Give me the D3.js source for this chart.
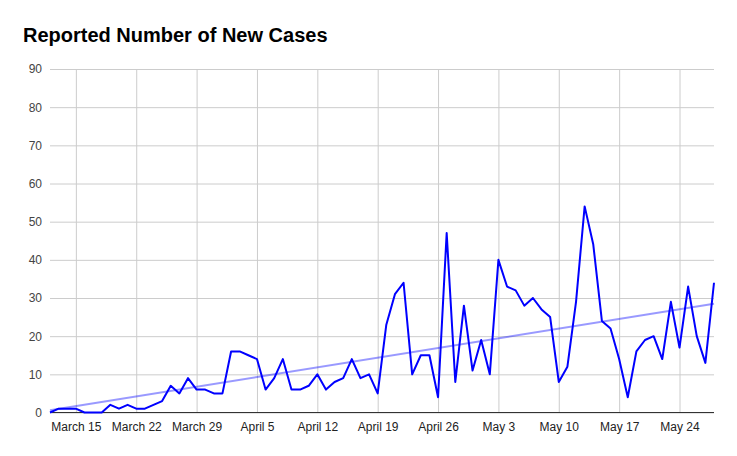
<!DOCTYPE html>
<html><head><meta charset="utf-8">
<script src="https://cdn.jsdelivr.net/npm/d3@7"></script>
<style>body{margin:0;background:#fff}svg{display:block}</style>
</head><body>
<script>
const startDate = "2020-03-12";
const cases = [0,1,1,1,0,0,0,2,1,2,1,1,2,3,7,5,9,6,6,5,5,16,16,15,14,6,9,14,6,6,7,10,6,8,9,14,9,10,5,23,31,34,10,15,15,4,47,8,28,11,19,10,40,33,32,28,30,27,25,8,12,29,54,44,24,22,14,4,16,19,20,14,29,17,33,20,13,34];
const tickDates = ["2020-03-15","2020-03-22","2020-03-29","2020-04-05","2020-04-12","2020-04-19","2020-04-26","2020-05-03","2020-05-10","2020-05-17","2020-05-24"];
const yTicks = [0,10,20,30,40,50,60,70,80,90];

const W = 737, H = 456;
const m = {left: 50, right: 23, top: 69, bottom: 43.5};
const parse = d3.utcParse("%Y-%m-%d");
const t0 = parse(startDate);
const data = cases.map((v,i)=>({date: d3.utcDay.offset(t0,i), v}));

const svg = d3.select("body").append("svg").attr("width",W).attr("height",H);
const x = d3.scaleUtc().domain([data[0].date, data[data.length-1].date]).range([m.left, W-m.right]);
const y = d3.scaleLinear().domain([0,90]).range([H-m.bottom, m.top]);

svg.append("text").attr("x",23).attr("y",42).text("Reported Number of New Cases")
  .attr("font-family","Arial, 'Liberation Sans', sans-serif").attr("font-weight","bold").attr("font-size",20).attr("fill","#000");

// horizontal grid + y axis
const yAxis = d3.axisLeft(y).tickValues(yTicks).tickSize(-(W-m.left-m.right)).tickPadding(8).tickFormat(d3.format("d"));
const gy = svg.append("g").attr("transform",`translate(${m.left},0)`).call(yAxis);
gy.select(".domain").remove();
gy.selectAll(".tick line").attr("stroke","#cccccc");
gy.selectAll(".tick text").attr("font-family","Arial, 'Liberation Sans', sans-serif").attr("font-size",12).attr("fill","#444");

// vertical grid + x axis
const xAxis = d3.axisBottom(x).tickValues(tickDates.map(parse)).tickSize(-(H-m.bottom-m.top)).tickPadding(10).tickFormat(d3.utcFormat("%B %-d"));
const gx = svg.append("g").attr("transform",`translate(0,${H-m.bottom})`).call(xAxis);
gx.select(".domain").remove();
gx.selectAll(".tick line").attr("stroke","#cccccc");
gx.selectAll(".tick text").attr("font-family","Arial, 'Liberation Sans', sans-serif").attr("font-size",12).attr("fill","#222");

// baseline
svg.append("line").attr("x1",m.left).attr("x2",W-m.right).attr("y1",y(0)).attr("y2",y(0)).attr("stroke","#333").attr("stroke-width",1);

// linear trendline (least squares)
const n = cases.length;
const xs = d3.range(n);
const mx = d3.mean(xs), my = d3.mean(cases);
const slope = d3.sum(xs,(i)=>(i-mx)*(cases[i]-my)) / d3.sum(xs,i=>(i-mx)*(i-mx));
const icpt = my - slope*mx;
svg.append("line")
  .attr("x1",x(data[0].date)).attr("y1",y(icpt))
  .attr("x2",x(data[n-1].date)).attr("y2",y(icpt+slope*(n-1)))
  .attr("stroke","#0000ff").attr("stroke-opacity",0.4).attr("stroke-width",2);

// main line
svg.append("path").datum(data)
  .attr("d", d3.line().x(d=>x(d.date)).y(d=>y(d.v)))
  .attr("fill","none").attr("stroke","#0000ff").attr("stroke-width",2).attr("stroke-linejoin","round");
</script>
</body></html>
